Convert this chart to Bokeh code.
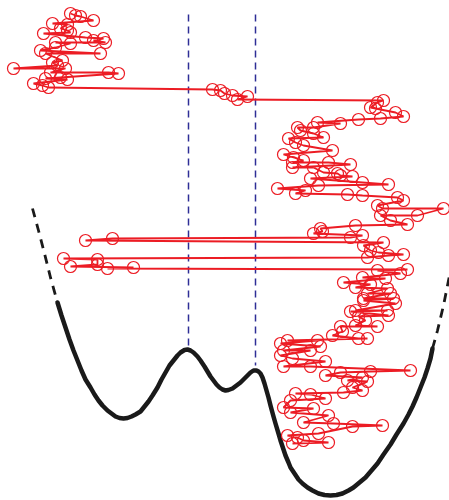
from bokeh.plotting import figure
from bokeh.models import Range1d
from bokeh.embed import file_html
from bokeh.resources import INLINE

# Trajectory: position (x) against time (downwards)
traj_time = [13, 15, 16, 20, 23, 24, 28, 30, 32, 33, 37, 38, 40, 42, 42, 43, 47, 50, 53, 53,
             60, 62, 65, 68, 68, 72, 72, 73, 77, 78, 79, 83, 85, 87,
             89, 90, 93, 95, 96, 99,
             100, 102, 107, 108, 112, 116, 118, 119, 122, 123, 127, 127, 130, 133, 137, 138,
             142, 145, 150, 154, 157, 160, 162, 162, 164, 167, 167, 172, 173, 175, 176, 178,
             182, 184, 185, 188, 190, 193, 194, 195, 197, 200, 205, 208, 208, 215, 215, 220,
             224, 225, 228, 231, 233, 235, 237, 238, 240, 242, 245, 250, 252, 254, 255, 257,
             258, 259, 264, 266, 267, 268, 269, 270, 273, 277, 278, 282, 284, 287, 288, 293,
             293, 298, 298, 300, 303, 310, 310, 311, 315, 316, 320, 325, 326, 326, 331, 335,
             338, 338, 340, 340, 343, 346, 350, 350, 355, 358, 361, 366, 366, 370, 371, 372,
             375, 377, 380, 381, 387, 390, 392, 393, 394, 398, 400, 407, 408, 412, 415, 422,
             423, 425, 426, 433, 435, 437, 440, 442, 443]
traj_pos = [70, 75, 80, 93, 52, 67, 60, 67, 70, 43, 85, 103, 93, 105, 55, 70, 55, 40, 100, 45,
            62, 52, 57, 13, 65, 50, 108, 118, 60, 45, 67, 33, 42, 48,
            212, 220, 224, 232, 247, 237,
            383, 377, 370, 375, 395, 403, 380, 358, 317, 340, 313, 297, 300, 313, 323, 288,
            295, 303, 332, 283, 293, 303, 292, 328, 350, 292, 313, 323, 337, 340, 352, 310,
            362, 388, 318, 277, 305, 295, 347, 362, 397, 403, 377, 382, 443, 417, 380, 390,
            407, 355, 320, 322, 313, 362, 350, 112, 85, 383, 363, 370, 378, 403, 388, 367,
            63, 97, 97, 70, 133, 107, 407, 377, 400, 362, 385, 343, 370, 355, 387, 367,
            390, 363, 393, 363, 395, 355, 387, 350, 388, 358, 365, 355, 377, 340, 342, 332,
            358, 367, 287, 317, 280, 320, 283, 310, 280, 292, 325, 283, 310, 410, 370, 340,
            325, 362, 347, 367, 352, 362, 343, 295, 310, 325, 290, 283, 313, 290, 328, 303,
            333, 382, 352, 318, 287, 297, 303, 328, 292]

# Potential curve
pot_x = [57, 61, 65, 69, 73, 77, 81, 85, 90, 94, 98, 102, 107, 111, 115, 119, 123, 127, 131,
         135, 140, 144, 148, 152, 157, 161, 165, 169, 173, 177, 180, 184, 187, 190, 193, 197,
         200, 204, 207, 210, 213, 216, 219, 222, 225, 228, 232, 236, 240, 244, 247, 250, 253,
         256, 258, 260, 262, 264, 266, 268, 270, 273, 275, 278, 280, 283, 285, 288, 290, 294,
         298, 302, 307, 312, 318, 324, 330, 336, 342, 348, 353, 359, 365, 371, 377, 383, 390,
         396, 403, 408, 412, 416, 420, 424, 427, 430, 432]
pot_v = [302, 315, 327, 339, 350, 360, 370, 379, 387, 394, 400, 405, 410, 413, 416, 417.5, 418,
         417.5, 416, 414, 411, 406, 401, 395, 387, 379, 372, 365, 360, 355, 352, 349.5, 349, 350,
         352, 356, 360, 366, 371, 376, 380, 384, 387, 389, 390, 389.5, 388, 385, 382, 378, 375,
         372, 370, 370, 371, 373, 377, 383, 390, 397, 405, 416, 423, 433, 440, 449, 455, 462,
         467, 473, 479, 483, 487, 490, 493, 494.5, 495, 494.5, 493, 490, 487, 482, 477, 470,
         463, 454, 444, 434, 423, 414, 406, 397, 387, 377, 368, 358, 348]
left_tail_x = [32, 38, 44, 50, 57]
left_tail_v = [208, 230, 253, 277, 302]
right_tail_x = [432, 437, 443, 449, 452]
right_tail_v = [348, 330, 305, 275, 262]

# Barrier markers
barrier_x = [188, 255]
barrier_top = [14, 14]
barrier_bottom = [347, 365]

p = figure(width=449, height=500, output_backend="svg", toolbar_location=None,
           x_range=Range1d(0, 449), y_range=Range1d(500, 0),
           min_border=0, outline_line_color=None)
p.axis.visible = False
p.grid.visible = False
p.background_fill_color = "white"
p.border_fill_color = "white"

for bx, bt, bb in zip(barrier_x, barrier_top, barrier_bottom):
    p.line([bx, bx], [bt, bb], line_color="#2e2e96", line_width=1.5, line_dash="7 5")

p.line(left_tail_x, left_tail_v, line_color="#1a1a1a", line_width=2.8, line_dash="9 7")
p.line(right_tail_x, right_tail_v, line_color="#1a1a1a", line_width=2.8, line_dash="9 7")
p.line(pot_x, pot_v, line_color="#1a1a1a", line_width=4.5, line_join="round", line_cap="round")

p.line(traj_pos, traj_time, line_color="#ec1c24", line_width=1.8)
p.scatter(traj_pos, traj_time, marker="circle", size=12, fill_color=None,
          line_color="#ec1c24", line_width=1.2)

open("out.html", "w").write(file_html(p, INLINE))
